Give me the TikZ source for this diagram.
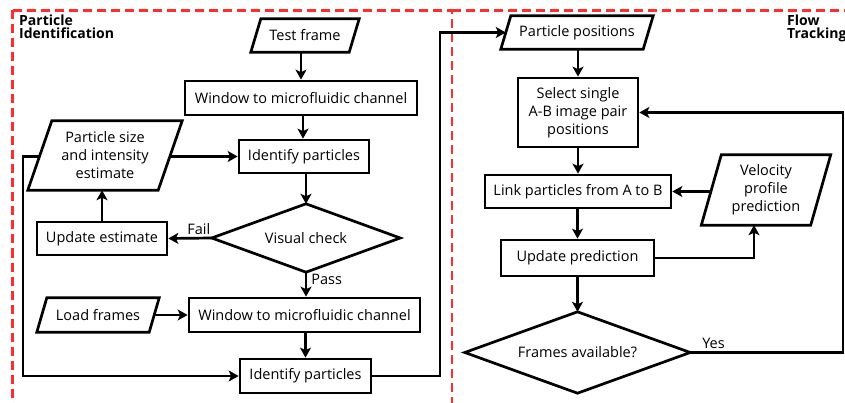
\documentclass[tikz,border=0pt]{standalone}
\usepackage{fontspec}
\setmainfont{Open Sans}
\usetikzlibrary{arrows.meta}
\definecolor{dashred}{RGB}{255,45,45}
\newcommand\parashape[2]{\draw[shp] ([xshift=-#2]#1.south west) -- ([xshift=-#2]#1.south east) -- ([xshift=#2]#1.north east) -- ([xshift=#2]#1.north west) -- cycle;}
\newcommand\diashape[1]{\draw[shp] (#1.west) -- (#1.north) -- (#1.east) -- (#1.south) -- cycle;}
\begin{document}
\begin{tikzpicture}[x=1pt,y=-1pt,
  txt/.style={align=center, inner sep=0pt, font=\fontsize{14.5}{18}\selectfont},
  box/.style={txt, draw, line width=2.7pt},
  ghost/.style={txt},
  shp/.style={line width=2.7pt, line join=miter},
  conn/.style={line width=2.7pt, -{Stealth[length=10pt,width=11pt,inset=2.5pt]}},
  lbl/.style={inner sep=0pt, font=\fontsize{14.5}{18}\selectfont},
  title/.style={inner sep=0pt, align=left, anchor=north west, font=\bfseries\fontsize{14}{13}\selectfont},
  region/.style={draw=dashred, line width=2.6pt, dash pattern=on 9pt off 5pt}
]
\clip (0,0) rectangle (845,403);
\fill[white] (0,0) rectangle (845,403);

% regions
\draw[region] (12.5,10.5) -- (452,10.5) -- (452,420);
\draw[region] (12.5,10.5) -- (12.5,420);
\draw[region] (452,10.5) -- (860,10.5);
\node[title] (t1) at (19,14.5) {Particle\\Identification};
\node[title] (t2) at (787,14.5) {Flow\\Tracking};

% left column
\node[ghost, minimum width=98pt, minimum height=33pt] (test) at (305,35.5) {Test frame};
\parashape{test}{5pt}
\node[box, minimum width=232pt, minimum height=34pt] (win1) at (301,98) {Window to microfluidic channel};
\node[box, minimum width=130pt, minimum height=33pt] (id1) at (304,156.5) {Identify particles};
\node[ghost, minimum width=130pt, minimum height=69pt] (ps) at (105,155.5) {Particle size\\and intensity\\estimate};
\parashape{ps}{12pt}
\node[ghost, minimum width=188pt, minimum height=68pt] (vis) at (306,238) {Visual check};
\diashape{vis}
\node[box, minimum width=130pt, minimum height=33pt] (upde) at (102,238.5) {Update estimate};
\node[ghost, minimum width=112pt, minimum height=34pt] (load) at (98,315) {Load frames};
\parashape{load}{5pt}
\node[box, minimum width=231pt, minimum height=34pt] (win2) at (304.5,315) {Window to microfluidic channel};
\node[box, minimum width=131pt, minimum height=34pt] (id2) at (305.5,376) {Identify particles};

% right column
\node[ghost, minimum width=142pt, minimum height=33pt] (pp) at (577,32.5) {Particle positions};
\parashape{pp}{5pt}
\node[box, minimum width=120pt, minimum height=69pt] (sel) at (578,112.5) {Select single\\A-B image pair\\positions};
\node[box, minimum width=186pt, minimum height=33pt] (link) at (578,191.5) {Link particles from A to B};
\node[ghost, minimum width=109pt, minimum height=70pt] (vel) at (766,190) {Velocity\\profile\\prediction};
\parashape{vel}{10pt}
\node[box, minimum width=153pt, minimum height=36pt] (updp) at (577.5,258) {Update prediction};
\node[ghost, minimum width=225pt, minimum height=81pt] (fr) at (577.5,352.5) {Frames available?};
\diashape{fr}

% helper coordinates
\coordinate (cL) at (23,0);
\coordinate (cM) at (440,0);
\coordinate (cR) at (843,0);

% left connectors
\draw[conn] (test.south -| win1.north) -- (win1.north);
\draw[conn] (win1.south -| 303,0) -- (id1.north -| 303,0);
\draw[conn] (id1.south -| vis.north) -- (vis.north);
\draw[conn] (ps.east |- id1.west) -- (id1.west);
\draw[conn] (upde.north) -- (upde.north |- ps.south);
\draw[conn] (vis.west) -- node[lbl, above=2pt, pos=0.3] (fail) {Fail} (upde.east);
\draw[conn] (vis.south) -- node[lbl, right=4pt, pos=0.3] (pass) {Pass} (vis.south |- win2.north);
\draw[conn] (load.east) -- (win2.west);
\draw[conn] (win2.south -| id2.north) -- (id2.north);
\draw[conn] (ps.west |- id1.west) -| (cL |- id2.west) -- (id2.west);
\draw[conn] (id2.east) -| (cM |- pp.west) -- (pp.west);

% right connectors
\draw[conn] (pp.south -| sel.north) -- (sel.north);
\draw[conn] (sel.south) -- (sel.south |- link.north);
\draw[conn] (vel.west |- link.east) -- (link.east);
\draw[conn] (link.south -| updp.north) -- (updp.north);
\draw[conn] (updp.south) -- (updp.south |- fr.north);
\draw[conn] (updp.east) -| ([xshift=-12pt]vel.south);
\draw[conn] (fr.east) -- node[lbl, above=3pt, pos=0.07, anchor=south west] (yes) {Yes} (cR |- fr.east) -- (cR |- sel.east) -- (sel.east);
\end{tikzpicture}
\end{document}
